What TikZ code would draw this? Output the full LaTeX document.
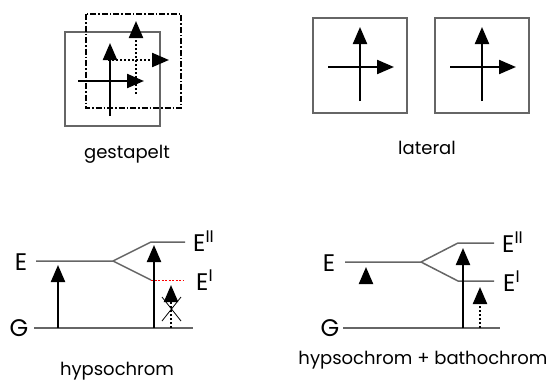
\documentclass[tikz,border=0pt]{standalone}
\usepackage{fontspec}
\setmainfont{Poppins}
\usetikzlibrary{arrows.meta}

\begin{document}
\begin{tikzpicture}[x=1pt,y=-1pt,font=\fontsize{18}{18}\selectfont,
  pfeil/.style={line width=2.2pt,-{Triangle[length=17pt,width=14pt]}},
  punktpfeil/.style={pfeil,dash pattern=on 2pt off 2pt},
  kasten/.style={draw=black!60,line width=1.1pt},
  niveau/.style={draw=black!60,line width=1.5pt},
  lbl/.style={inner sep=0pt},
  elbl/.style={inner sep=0pt,font=\fontsize{24}{24}\selectfont}]
  \useasboundingbox (0,0) rectangle (549,383);
  % gestapelt
  \draw[kasten] (65,32) rectangle (160,126);
  \draw[line width=2pt,dash pattern=on 6pt off 2pt on 1.5pt off 2pt] (86,14) rectangle (181,108);
  \coordinate (b1) at (136,94); \coordinate (b2) at (136,21); \coordinate (b3) at (108,60); \coordinate (b4) at (169,60);
  \coordinate (a1) at (110,116); \coordinate (a2) at (110,43); \coordinate (a3) at (78,81); \coordinate (a4) at (144,81);
  \draw[punktpfeil] (b1)--(b2); \draw[punktpfeil] (b3)--(b4);
  \draw[pfeil] (a1)--(a2); \draw[pfeil] (a3)--(a4);
  \node[lbl,anchor=base] (gest) at (127,158) {gestapelt};
  % lateral
  \foreach \dx/\n in {0/l,122/r}{
    \draw[kasten] (313+\dx,18) rectangle (407+\dx,113);
    \coordinate (\n1) at (360+\dx,101); \coordinate (\n2) at (360+\dx,27);
    \coordinate (\n3) at (328+\dx,67); \coordinate (\n4) at (394+\dx,67);
    \draw[pfeil] (\n1)--(\n2); \draw[pfeil] (\n3)--(\n4);
  }
  \node[lbl,anchor=base] (lat) at (427,154) {lateral};
  % hypsochrom
  \coordinate (e0) at (36,261); \coordinate (e1) at (113,261); \coordinate (eo) at (151,242); \coordinate (eo2) at (185,242);
  \coordinate (eu) at (151,280); \coordinate (eu2) at (183,280); \coordinate (g0) at (34,328); \coordinate (g1) at (193,328);
  \draw[niveau] (e0)--(e1)--(eo)--(eo2); \draw[niveau] (e1)--(eu); \draw[niveau] (g0)--(g1);
  \draw[red,line width=1pt,dash pattern=on 2pt off 1.5pt] (eu)--(eu2);
  \coordinate (p1) at (58,328); \coordinate (p2) at (58,265);
  \coordinate (q1) at (154,328); \coordinate (q2) at (154,245);
  \coordinate (r1) at (171,328); \coordinate (r2) at (171,285);
  \draw[pfeil] (p1)--(p2); \draw[pfeil] (q1)--(q2); \draw[punktpfeil] (r1)--(r2);
  \draw[line width=0.8pt] (162,297)--(181,321) (181,297)--(162,321);
  \node[elbl] (E) at (21,262) {E}; \node[elbl] (G) at (19,328) {G};
  \node[elbl,anchor=west] (E2) at (193,241) {E\textsuperscript{II}};
  \node[elbl,anchor=west] (E1) at (196,280) {E\textsuperscript{I}};
  \node[lbl,anchor=base] (hyp) at (117,375) {hypsochrom};
  % hypsochrom + bathochrom
  \coordinate (f0) at (345,262); \coordinate (f1) at (421,262); \coordinate (fo) at (458,243); \coordinate (fo2) at (494,243);
  \coordinate (fu) at (458,281); \coordinate (fu2) at (494,281); \coordinate (h0) at (343,328); \coordinate (h1) at (500,328);
  \draw[niveau] (f0)--(f1)--(fo)--(fo2); \draw[niveau] (f1)--(fu)--(fu2); \draw[niveau] (h0)--(h1);
  \coordinate (k1) at (366,284); \coordinate (k2) at (366,267);
  \coordinate (s1) at (463,328); \coordinate (s2) at (463,248);
  \coordinate (t1) at (480,328); \coordinate (t2) at (480,287);
  \draw[pfeil] (k1)--(k2); \draw[pfeil] (s1)--(s2); \draw[punktpfeil] (t1)--(t2);
  \node[elbl] (F) at (329,263) {E}; \node[elbl] (H) at (330,328) {G};
  \node[elbl,anchor=west] (F2) at (502,242) {E\textsuperscript{II}};
  \node[elbl,anchor=west] (F1) at (503,281) {E\textsuperscript{I}};
  \node[lbl,anchor=base] (hb) at (423,364) {hypsochrom + bathochrom};
\end{tikzpicture}
\end{document}
